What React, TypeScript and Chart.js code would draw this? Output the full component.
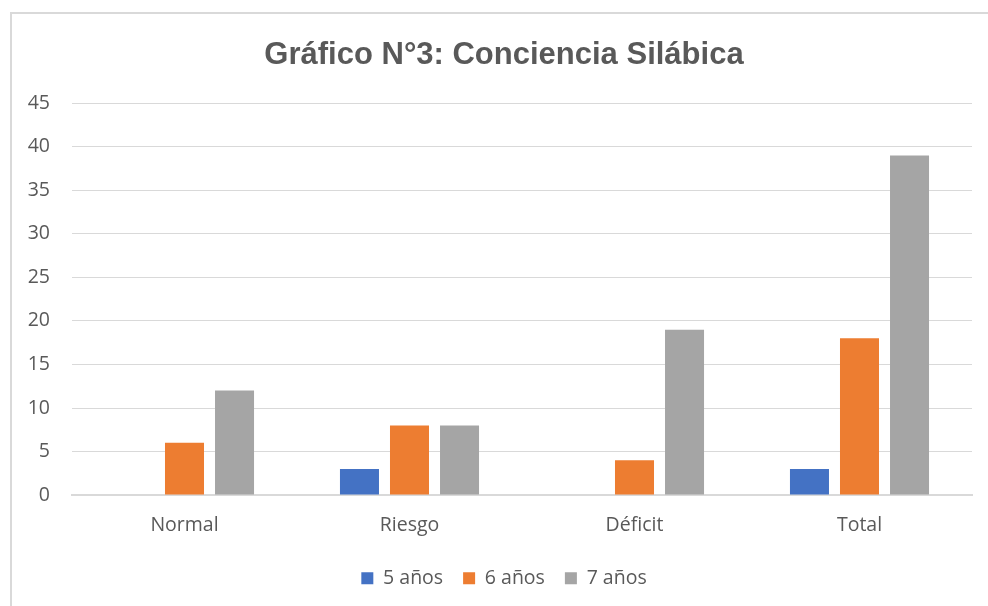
import React, { useEffect, useRef } from "react";
import { Chart, registerables } from "chart.js";

Chart.register(...registerables);

const categories = ["Normal", "Riesgo", "Déficit", "Total"];
const series5 = [0, 3, 0, 3];
const series6 = [6, 8, 4, 18];
const series7 = [12, 8, 19, 39];
const seriesLabels = ["5 años", "6 años", "7 años"];
const titleText = "Gráfico N°3: Conciencia Silábica";

export default function App() {
  const ref = useRef<HTMLCanvasElement | null>(null);
  useEffect(() => {
    if (!ref.current) return;
    const chart = new Chart(ref.current, {
      type: "bar",
      data: {
        labels: categories,
        datasets: [
          { label: seriesLabels[0], data: series5, backgroundColor: "#4472C4" },
          { label: seriesLabels[1], data: series6, backgroundColor: "#ED7D31" },
          { label: seriesLabels[2], data: series7, backgroundColor: "#A5A5A5" },
        ],
      },
      options: {
        animation: false,
        responsive: false,
        maintainAspectRatio: false,
        datasets: { bar: { categoryPercentage: 0.667, barPercentage: 0.78 } },
        layout: { padding: { left: 22, right: 2, top: 18, bottom: 8 } },
        plugins: {
          title: {
            display: true,
            text: titleText,
            color: "#595959",
            font: { family: "Liberation Sans", size: 31, weight: "bold" },
            padding: { top: 19, bottom: 29 },
          },
          legend: {
            position: "bottom",
            labels: {
              boxWidth: 12,
              boxHeight: 12,
              color: "#595959",
              font: { family: "Open Sans", size: 19.5 },
              padding: 20,
            },
          },
          tooltip: { enabled: false },
        },
        scales: {
          x: {
            afterFit: (scale: any) => {
              scale.height = scale.height - 8;
            },
            grid: { display: false, drawTicks: false },
            border: { color: "#d9d9d9", width: 2 },
            ticks: {
              color: "#595959",
              font: { family: "Open Sans", size: 19.5 },
              padding: 19,
            },
          },
          y: {
            min: 0,
            max: 45,
            afterFit: (scale: any) => {
              scale.width = 50;
            },
            grid: { color: "#d9d9d9", lineWidth: 1, drawTicks: false },
            border: { display: false },
            ticks: {
              stepSize: 5,
              color: "#595959",
              font: { family: "Open Sans", size: 19.5 },
              padding: 22,
            },
          },
          y2: {
            type: "linear",
            position: "right",
            afterFit: (scale: any) => {
              scale.width = 14;
            },
            grid: { display: false, drawTicks: false },
            border: { display: false },
            ticks: { display: false },
          },
        },
      },
    });
    return () => chart.destroy();
  }, []);
  return (
    <div style={{ position: "fixed", left: 0, top: 0, width: 988, height: 606, background: "#fff", overflow: "hidden" }}>
      <div
        style={{
          position: "absolute",
          left: 10,
          top: 12,
          width: 1000,
          height: 620,
          border: "2px solid #d9d9d9",
          boxSizing: "border-box",
        }}
      />
      <canvas ref={ref} width={988} height={606} style={{ position: "absolute", left: 0, top: 0 }} />
    </div>
  );
}
